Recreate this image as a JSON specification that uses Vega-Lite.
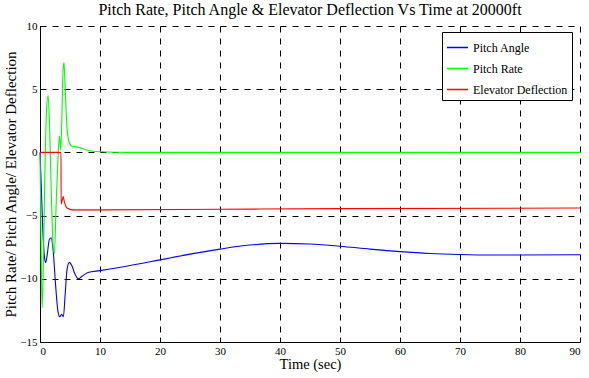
{
  "$schema": "https://vega.github.io/schema/vega-lite/v6.json",
  "width": 540,
  "height": 316,
  "autosize": {"type": "none"},
  "padding": {"left": 40, "top": 26, "right": 9, "bottom": 36},
  "background": "white",
  "title": {"text": "Pitch Rate, Pitch Angle & Elevator Deflection Vs Time at 20000ft", "font": "Liberation Serif", "fontSize": 16, "fontWeight": "normal", "color": "black", "offset": 2},
  "config": {
    "font": "Liberation Serif",
    "view": {"stroke": null},
    "legend": {"labelFont": "Liberation Serif", "labelFontSize": 12, "labelColor": "black"},
    "axis": {"labelFont": "Liberation Serif", "labelFontSize": 11, "labelColor": "black", "titleFont": "Liberation Serif", "titleFontWeight": "normal", "titleColor": "black", "domainColor": "black", "tickColor": "black", "grid": true, "gridColor": "black", "gridOpacity": 1, "gridDash": [6, 6], "gridWidth": 1, "tickSize": -5}
  },
  "data": {"values": [
    {"s": "Pitch Angle", "t": 0, "v": 0},
    {"s": "Pitch Angle", "t": 0.2, "v": -2.5},
    {"s": "Pitch Angle", "t": 0.5, "v": -6.5},
    {"s": "Pitch Angle", "t": 0.75, "v": -8.3},
    {"s": "Pitch Angle", "t": 0.95, "v": -8.7},
    {"s": "Pitch Angle", "t": 1.2, "v": -8.1},
    {"s": "Pitch Angle", "t": 1.55, "v": -6.9},
    {"s": "Pitch Angle", "t": 1.85, "v": -6.75},
    {"s": "Pitch Angle", "t": 2.2, "v": -7.8},
    {"s": "Pitch Angle", "t": 2.6, "v": -10.5},
    {"s": "Pitch Angle", "t": 3.0, "v": -12.6},
    {"s": "Pitch Angle", "t": 3.3, "v": -13.0},
    {"s": "Pitch Angle", "t": 3.6, "v": -12.8},
    {"s": "Pitch Angle", "t": 3.9, "v": -13.0},
    {"s": "Pitch Angle", "t": 4.2, "v": -11.2},
    {"s": "Pitch Angle", "t": 4.5, "v": -9.3},
    {"s": "Pitch Angle", "t": 4.9, "v": -8.7},
    {"s": "Pitch Angle", "t": 5.3, "v": -8.95},
    {"s": "Pitch Angle", "t": 5.8, "v": -9.6},
    {"s": "Pitch Angle", "t": 6.4, "v": -10.0},
    {"s": "Pitch Angle", "t": 7.0, "v": -9.8},
    {"s": "Pitch Angle", "t": 8.0, "v": -9.5},
    {"s": "Pitch Angle", "t": 10, "v": -9.35},
    {"s": "Pitch Angle", "t": 15, "v": -8.95},
    {"s": "Pitch Angle", "t": 20, "v": -8.5},
    {"s": "Pitch Angle", "t": 25, "v": -8.05},
    {"s": "Pitch Angle", "t": 30, "v": -7.65},
    {"s": "Pitch Angle", "t": 35, "v": -7.33},
    {"s": "Pitch Angle", "t": 40, "v": -7.2},
    {"s": "Pitch Angle", "t": 45, "v": -7.25},
    {"s": "Pitch Angle", "t": 50, "v": -7.42},
    {"s": "Pitch Angle", "t": 55, "v": -7.65},
    {"s": "Pitch Angle", "t": 60, "v": -7.85},
    {"s": "Pitch Angle", "t": 65, "v": -8.0},
    {"s": "Pitch Angle", "t": 70, "v": -8.08},
    {"s": "Pitch Angle", "t": 75, "v": -8.12},
    {"s": "Pitch Angle", "t": 80, "v": -8.12},
    {"s": "Pitch Angle", "t": 90, "v": -8.1},
    {"s": "Pitch Rate", "t": 0, "v": 0},
    {"s": "Pitch Rate", "t": 0.15, "v": -6},
    {"s": "Pitch Rate", "t": 0.35, "v": -12.3},
    {"s": "Pitch Rate", "t": 0.55, "v": -9},
    {"s": "Pitch Rate", "t": 0.8, "v": -2},
    {"s": "Pitch Rate", "t": 1.1, "v": 3.5},
    {"s": "Pitch Rate", "t": 1.35, "v": 4.5},
    {"s": "Pitch Rate", "t": 1.6, "v": 2},
    {"s": "Pitch Rate", "t": 1.9, "v": -3.5},
    {"s": "Pitch Rate", "t": 2.2, "v": -7.5},
    {"s": "Pitch Rate", "t": 2.4, "v": -8},
    {"s": "Pitch Rate", "t": 2.7, "v": -4},
    {"s": "Pitch Rate", "t": 3.0, "v": -0.5},
    {"s": "Pitch Rate", "t": 3.25, "v": 1.3},
    {"s": "Pitch Rate", "t": 3.45, "v": 0.2},
    {"s": "Pitch Rate", "t": 3.6, "v": 2},
    {"s": "Pitch Rate", "t": 3.85, "v": 6.5},
    {"s": "Pitch Rate", "t": 4.0, "v": 7.1},
    {"s": "Pitch Rate", "t": 4.2, "v": 5},
    {"s": "Pitch Rate", "t": 4.5, "v": 2},
    {"s": "Pitch Rate", "t": 4.8, "v": 0.9},
    {"s": "Pitch Rate", "t": 5.3, "v": 0.5},
    {"s": "Pitch Rate", "t": 6.5, "v": 0.4},
    {"s": "Pitch Rate", "t": 8, "v": 0.15},
    {"s": "Pitch Rate", "t": 10, "v": 0.05},
    {"s": "Pitch Rate", "t": 15, "v": 0},
    {"s": "Pitch Rate", "t": 90, "v": 0},
    {"s": "Elevator Deflection", "t": 0, "v": 0},
    {"s": "Elevator Deflection", "t": 3.5, "v": 0},
    {"s": "Elevator Deflection", "t": 3.52, "v": -4.1},
    {"s": "Elevator Deflection", "t": 3.7, "v": -3.8},
    {"s": "Elevator Deflection", "t": 3.85, "v": -3.5},
    {"s": "Elevator Deflection", "t": 4.1, "v": -4.0},
    {"s": "Elevator Deflection", "t": 4.5, "v": -4.4},
    {"s": "Elevator Deflection", "t": 5.5, "v": -4.55},
    {"s": "Elevator Deflection", "t": 10, "v": -4.55},
    {"s": "Elevator Deflection", "t": 30, "v": -4.5},
    {"s": "Elevator Deflection", "t": 50, "v": -4.45},
    {"s": "Elevator Deflection", "t": 90, "v": -4.4}
  ]},
  "layer": [
    {
      "mark": {"type": "line", "strokeWidth": 1.1, "interpolate": "monotone"},
      "encoding": {
        "x": {"field": "t", "type": "quantitative", "scale": {"domain": [0, 90], "nice": false}, "axis": {"title": "Time (sec)", "titleFontSize": 14.5, "titlePadding": 1, "values": [0, 10, 20, 30, 40, 50, 60, 70, 80, 90], "labelPadding": 8}},
        "y": {"field": "v", "type": "quantitative", "scale": {"domain": [-15, 10], "nice": false}, "axis": {"title": "Pitch Rate/ Pitch Angle/ Elevator Deflection", "titleFontSize": 15, "titlePadding": 1, "values": [-15, -10, -5, 0, 5, 10], "labelPadding": 8}},
        "color": {"field": "s", "type": "nominal", "scale": {"domain": ["Pitch Angle", "Pitch Rate", "Elevator Deflection"], "range": ["#0000FF", "#00FF00", "#FF0000"]},
          "legend": {"title": null, "orient": "none", "legendX": 402, "legendY": 6, "strokeColor": "black", "fillColor": "white", "padding": 4, "symbolType": "stroke", "symbolSize": 441, "symbolStrokeWidth": 1.5, "labelOffset": 4, "labelFont": "Liberation Serif", "labelFontSize": 12, "labelColor": "black", "rowPadding": 3}},
        "order": {"field": "t", "type": "quantitative"}
      }
    }
  ]
}
